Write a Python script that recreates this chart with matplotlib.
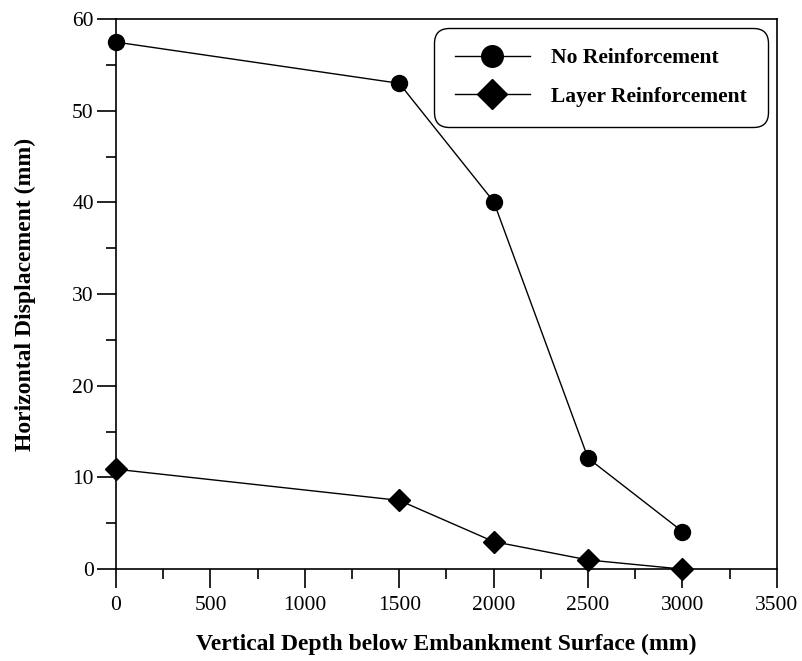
import matplotlib.pyplot as plt
from matplotlib.ticker import MultipleLocator

depth = [0, 1500, 2000, 2500, 3000]
no_reinf = [57.5, 53.0, 40.1, 12.1, 4.1]
layer_reinf = [10.9, 7.5, 3.0, 1.0, 0.0]

plt.rcParams["font.family"] = ["Liberation Serif", "DejaVu Serif"]

fig = plt.figure(figsize=(8.03, 6.61), dpi=100)
ax = fig.add_axes([0.1445, 0.139, 0.823, 0.832])

ax.plot(depth, no_reinf, color="black", lw=1, marker="o", ms=11.5,
        label="No Reinforcement", clip_on=False, zorder=3)
ax.plot(depth, layer_reinf, color="black", lw=1, marker="D", ms=11.5,
        label="Layer Reinforcement", clip_on=False, zorder=3)

ax.set_xlim(0, 3500)
ax.set_ylim(0, 60)
ax.xaxis.set_major_locator(MultipleLocator(500))
ax.xaxis.set_minor_locator(MultipleLocator(250))
ax.yaxis.set_major_locator(MultipleLocator(10))
ax.yaxis.set_minor_locator(MultipleLocator(5))
ax.tick_params(which="major", direction="out", length=14, width=1.2,
               labelsize=15.5)
ax.tick_params(axis="x", which="major", pad=5)
ax.tick_params(axis="y", which="major", pad=2)
ax.tick_params(which="minor", direction="out", length=7, width=1.2)
for s in ax.spines.values():
    s.set_linewidth(1.2)

ax.set_xlabel("Vertical Depth below Embankment Surface (mm)",
              fontsize=17, fontweight="bold", labelpad=14)
ax.set_ylabel("Horizontal Displacement (mm)",
              fontsize=17, fontweight="bold", labelpad=26)

leg = ax.legend(loc="upper right", bbox_to_anchor=(0.986, 0.984),
                borderaxespad=0, markerscale=1.35,
                prop={"weight": "bold", "size": 15.5},
                handlelength=3.5, labelspacing=0.85, borderpad=0.95,
                handletextpad=1.0, fancybox=True, framealpha=1)
leg.get_frame().set_edgecolor("black")
leg.get_frame().set_linewidth(1.0)
leg.get_frame().set_boxstyle("round,pad=0,rounding_size=0.7")

plt.savefig("out.png", dpi=100)
